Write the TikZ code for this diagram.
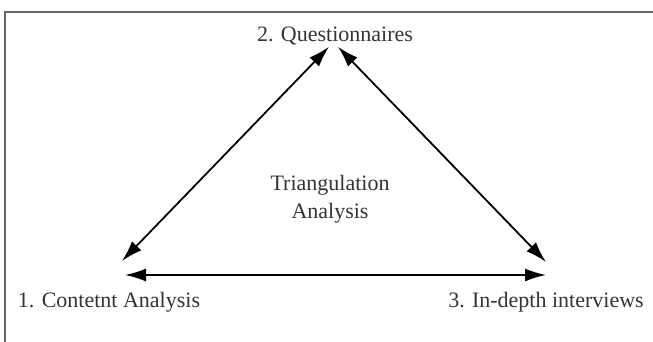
\documentclass[tikz,border=0pt]{standalone}
\usepackage{fontspec}
\setmainfont{Liberation Serif}
\usetikzlibrary{arrows.meta}

\tikzset{
  lbl/.style={inner sep=0pt,text=black!80,font=\fontsize{22}{28}\selectfont},
  conn/.style={line width=1.8pt,{Latex[length=21pt,width=13pt]}-{Latex[length=21pt,width=13pt]}}
}

\begin{document}
\begin{tikzpicture}[x=1pt,y=-1pt]
          \useasboundingbox (0,0) rectangle (653,342);
          \clip (0,0) rectangle (653,342);
          %frame, cut off at right and bottom
          \draw[black!60,line width=2pt] (5,12) rectangle (700,400);
          \node[lbl,anchor=base] (quest) at (335,42) {2. Questionnaires};
          \node[lbl,anchor=base] (cont) at (109,307) {1. Contetnt Analysis};
          \node[lbl,anchor=base] (interv) at (546,307) {3. In-depth interviews};
          \node[lbl,align=center] (tri) at (330,199) {Triangulation\\Analysis};
          \draw[conn] ([xshift=-6pt,yshift=-1pt]quest.south) -- ([xshift=13pt,yshift=46pt]cont.base);
          \draw[conn] ([xshift=3pt,yshift=-1pt]quest.south) -- ([yshift=45pt]interv.base);
          \draw[conn] ([xshift=16pt,yshift=32pt]cont.base) -- ([yshift=32pt]interv.base);
        \end{tikzpicture}
\end{document}
